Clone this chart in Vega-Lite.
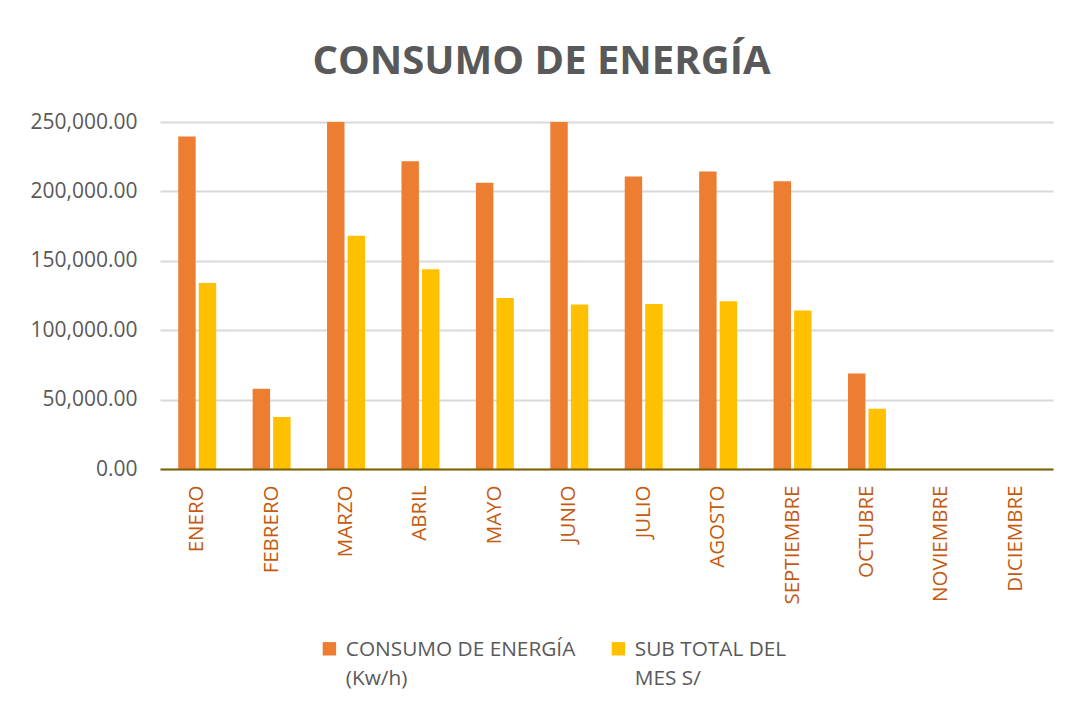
{
  "$schema": "https://vega.github.io/schema/vega-lite/v6.json",
  "width": 893,
  "height": 347,
  "autosize": "none",
  "padding": {"left": 160, "top": 122, "right": 19, "bottom": 237},
  "background": "white",
  "title": {
    "text": "CONSUMO DE ENERGÍA",
    "font": "Open Sans",
    "fontSize": 40,
    "fontWeight": "bold",
    "color": "#595959",
    "anchor": "middle",
    "frame": "bounds",
    "offset": 29
  },
  "data": {
    "values": [
      {"mes": "ENERO", "serie": "CONSUMO DE ENERGÍA (Kw/h)", "valor": 239500},
      {"mes": "ENERO", "serie": "SUB TOTAL DEL MES S/", "valor": 134000},
      {"mes": "FEBRERO", "serie": "CONSUMO DE ENERGÍA (Kw/h)", "valor": 57800},
      {"mes": "FEBRERO", "serie": "SUB TOTAL DEL MES S/", "valor": 37500},
      {"mes": "MARZO", "serie": "CONSUMO DE ENERGÍA (Kw/h)", "valor": 262000},
      {"mes": "MARZO", "serie": "SUB TOTAL DEL MES S/", "valor": 168000},
      {"mes": "ABRIL", "serie": "CONSUMO DE ENERGÍA (Kw/h)", "valor": 221800},
      {"mes": "ABRIL", "serie": "SUB TOTAL DEL MES S/", "valor": 144000},
      {"mes": "MAYO", "serie": "CONSUMO DE ENERGÍA (Kw/h)", "valor": 206200},
      {"mes": "MAYO", "serie": "SUB TOTAL DEL MES S/", "valor": 123200},
      {"mes": "JUNIO", "serie": "CONSUMO DE ENERGÍA (Kw/h)", "valor": 258000},
      {"mes": "JUNIO", "serie": "SUB TOTAL DEL MES S/", "valor": 118500},
      {"mes": "JULIO", "serie": "CONSUMO DE ENERGÍA (Kw/h)", "valor": 210800},
      {"mes": "JULIO", "serie": "SUB TOTAL DEL MES S/", "valor": 118800},
      {"mes": "AGOSTO", "serie": "CONSUMO DE ENERGÍA (Kw/h)", "valor": 214300},
      {"mes": "AGOSTO", "serie": "SUB TOTAL DEL MES S/", "valor": 120800},
      {"mes": "SEPTIEMBRE", "serie": "CONSUMO DE ENERGÍA (Kw/h)", "valor": 207300},
      {"mes": "SEPTIEMBRE", "serie": "SUB TOTAL DEL MES S/", "valor": 114200},
      {"mes": "OCTUBRE", "serie": "CONSUMO DE ENERGÍA (Kw/h)", "valor": 68800},
      {"mes": "OCTUBRE", "serie": "SUB TOTAL DEL MES S/", "valor": 43400},
      {"mes": "NOVIEMBRE", "serie": "CONSUMO DE ENERGÍA (Kw/h)", "valor": null},
      {"mes": "NOVIEMBRE", "serie": "SUB TOTAL DEL MES S/", "valor": null},
      {"mes": "DICIEMBRE", "serie": "CONSUMO DE ENERGÍA (Kw/h)", "valor": null},
      {"mes": "DICIEMBRE", "serie": "SUB TOTAL DEL MES S/", "valor": null}
    ]
  },
  "mark": {"type": "bar", "clip": true},
  "encoding": {
    "x": {
      "field": "mes",
      "type": "nominal",
      "sort": null,
      "title": null,
      "scale": {
        "domain": ["ENERO", "FEBRERO", "MARZO", "ABRIL", "MAYO", "JUNIO", "JULIO", "AGOSTO", "SEPTIEMBRE", "OCTUBRE", "NOVIEMBRE", "DICIEMBRE"],
        "paddingInner": 0.49,
        "paddingOuter": 0.245
      },
      "axis": {
        "labelAngle": -90,
        "labelFont": "Open Sans",
        "labelFontSize": 20.5,
        "labelColor": "#C55A11",
        "labelPadding": 16,
        "ticks": false,
        "domainColor": "#7F6000",
        "domainWidth": 2,
        "grid": false,
        "zindex": 1
      }
    },
    "xOffset": {
      "field": "serie",
      "type": "nominal",
      "sort": null,
      "scale": {"paddingInner": 0.15, "paddingOuter": 0}
    },
    "y": {
      "field": "valor",
      "type": "quantitative",
      "title": null,
      "scale": {"domain": [0, 250000], "nice": false},
      "axis": {
        "values": [0, 50000, 100000, 150000, 200000, 250000],
        "format": ",.2f",
        "labelFont": "Open Sans",
        "labelFontSize": 21,
        "labelColor": "#595959",
        "labelPadding": 23,
        "ticks": false,
        "domain": false,
        "gridColor": "#D9D9D9",
        "gridWidth": 2
      }
    },
    "color": {
      "field": "serie",
      "type": "nominal",
      "sort": null,
      "scale": {
        "domain": ["CONSUMO DE ENERGÍA (Kw/h)", "SUB TOTAL DEL MES S/"],
        "range": ["#ED7D31", "#FFC000"]
      },
      "legend": {
        "title": null,
        "orient": "none",
        "legendX": 159,
        "legendY": 516,
        "direction": "horizontal",
        "columns": 2,
        "columnPadding": 32,
        "padding": 0,
        "symbolType": "square",
        "symbolSize": 180,
        "symbolStrokeWidth": 0,
        "labelOffset": 6,
        "labelFont": "Open Sans",
        "labelFontSize": 20.8,
        "labelColor": "#595959",
        "labelLimit": 400,
        "labelBaseline": "middle",
        "labelExpr": "datum.label == 'CONSUMO DE ENERGÍA (Kw/h)' ? ['CONSUMO DE ENERGÍA', ' (Kw/h)'] : ['SUB TOTAL DEL', 'MES S/']",
        "encode": {
          "labels": {
            "update": {
              "lineHeight": {"value": 29},
              "baseline": {"value": "alphabetic"},
              "dy": {"value": 7}
            }
          }
        }
      }
    }
  },
  "config": {
    "view": {"stroke": null}
  }
}
